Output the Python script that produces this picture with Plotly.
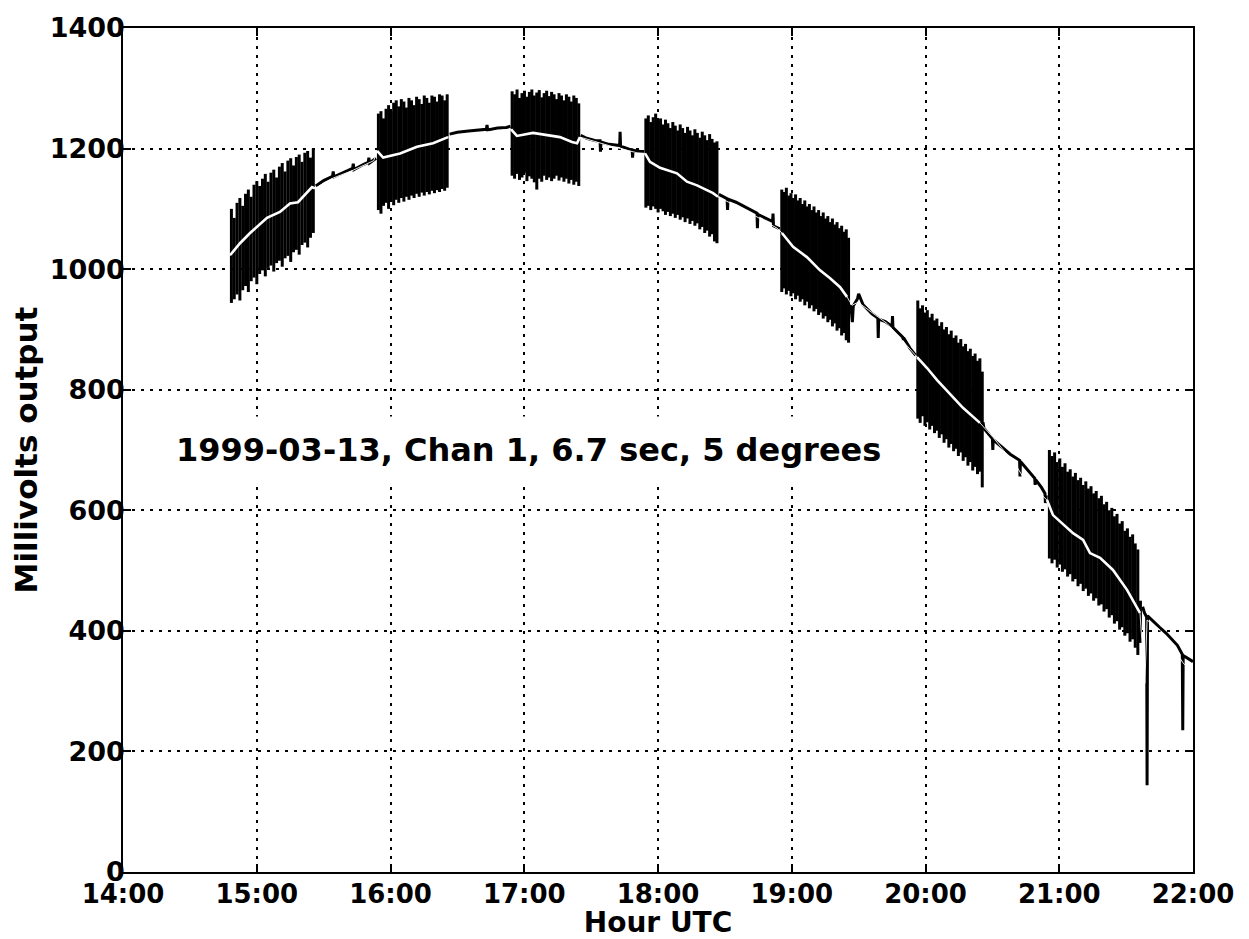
import pandas as pd
import plotly.graph_objects as go

BASE = pd.Timestamp("1999-03-13 14:00")

# ---- smoothed mean output (white curve): minutes after 14:00 UTC, millivolts
mean_min = [48.0, 52.5, 57.0, 64.6, 70.4, 74.9, 78.5, 84.8, 86.1,
            94.2, 103.2, 112.5, 114.0, 116.7, 124.3, 131.9, 139.1, 145.8,
            160.1, 174.1, 176.7, 183.9, 191.6, 196.0, 201.4, 203.7, 205.0,
            209.5, 219.8, 230.6, 234.2, 236.4, 240.9, 248.5, 253.0, 257.5, 264.7, 266.9,
            281.3, 293.4, 295.6, 300.6, 306.8, 312.7, 317.2, 321.7, 324.8, 327.0,
            329.7, 342.7, 356.2, 357.5, 360.7, 365.2, 372.3, 376.8, 384.4,
            390.3, 401.0, 403.8, 414.5, 417.2, 426.2, 430.7, 433.8, 438.3, 444.1, 450.4, 456.2,
            458.4, 459.4, 465.2, 472.8, 475.5, 480.0]
mean_mv = [1023, 1043, 1060, 1085, 1095, 1109, 1111, 1136, 1134,
           1151, 1164, 1180, 1196, 1185, 1192, 1203, 1209, 1219,
           1226, 1232, 1221, 1226, 1222, 1219, 1211, 1209, 1219,
           1214, 1203, 1193, 1192, 1178, 1168, 1159, 1145, 1139, 1126, 1120,
           1093, 1068, 1060, 1037, 1020, 998, 985, 970, 954, 940,
           945, 910, 854, 849, 836, 816, 788, 770, 745,
           721, 672, 655, 617, 592, 562, 551, 529, 521, 501, 468, 430,
           313, 418, 401, 363, 347, 330]

# ---- raw output between the swings (black trace, with its spikes)
raw_min = [86.5, 90.0, 94.0, 94.3, 94.6, 99.0, 103.0, 103.3, 103.6, 108.0, 110.0, 110.3, 110.6, 113.5,
           146.5, 150.0, 155.0, 160.0, 163.0, 163.3, 163.6, 168.0, 172.0, 173.8,
           205.3, 208.0, 212.0, 214.0, 214.2, 214.4, 218.0, 222.8, 223.0, 223.2, 227.0,
           228.4, 228.6, 228.8, 232.0, 233.8,
           267.3, 270.0, 271.0, 271.2, 271.4, 275.0, 279.0, 283.0, 284.4, 284.6, 284.8,
           288.0, 291.4, 291.6, 291.8, 294.6,
           326.5, 327.2, 327.6, 329.5, 330.0, 332.0, 336.0, 338.6, 338.8, 339.0, 342.0,
           345.0, 345.2, 345.4, 349.8, 350.0, 350.2, 353.0, 355.6,
           385.8, 386.2, 390.0, 390.2, 390.4, 394.0, 398.0, 402.2, 402.4, 402.6, 406.0,
           409.0, 409.2, 409.4, 412.0, 413.6, 413.8, 414.2,
           457.4, 458.2, 459.2, 459.4, 459.6, 462.0, 465.0, 468.0, 471.0, 473.0,
           475.2, 475.4, 475.6, 478.0, 480.0]
raw_mv = [1138, 1147, 1154, 1162, 1153, 1160, 1167, 1175, 1165, 1174, 1177, 1185, 1176, 1184,
          1224, 1227, 1229, 1231, 1232, 1239, 1231, 1234, 1235, 1237,
          1222, 1217, 1213, 1213, 1195, 1211, 1207, 1205, 1228, 1204, 1199,
          1198, 1185, 1197, 1195, 1195,
          1124, 1119, 1117, 1098, 1116, 1111, 1103, 1095, 1093, 1068, 1091,
          1085, 1079, 1092, 1072, 1067,
          941, 912, 939, 951, 959, 941, 926, 919, 886, 917, 913,
          905, 922, 903, 887, 882, 886, 869, 857,
          746, 736, 719, 700, 717, 706, 693, 683, 656, 681, 666,
          653, 642, 651, 638, 628, 612, 625,
          440, 430, 423, 144, 425, 416, 406, 396, 383, 376,
          361, 235, 359, 353, 349]

# ---- swings while the antenna is moved: start / end (minutes after 14:00), peak and trough values
burst_start = [48, 114, 174, 234, 295, 356, 415]
burst_end = [86, 146, 205, 267, 326, 386, 457]
b1_hi = [1100, 1085, 1110, 1118, 1105, 1125, 1132, 1120, 1140, 1146, 1138, 1150, 1158, 1145, 1160,
         1165, 1152, 1170, 1176, 1162, 1180, 1184, 1172, 1186, 1190, 1178, 1193, 1196, 1185, 1200]
b1_lo = [944, 950, 958, 948, 965, 972, 962, 980, 986, 975, 992, 998, 988, 1002, 1006,
         996, 1010, 1014, 1004, 1018, 1022, 1012, 1028, 1032, 1024, 1040, 1044, 1036, 1052, 1060]
b2_hi = [1258, 1262, 1250, 1266, 1272, 1262, 1276, 1280, 1270, 1282, 1278, 1268, 1284, 1280,
         1272, 1286, 1282, 1274, 1288, 1284, 1276, 1288, 1286, 1278, 1290, 1288, 1280, 1290]
b2_lo = [1098, 1092, 1105, 1110, 1100, 1112, 1106, 1115, 1110, 1118, 1112, 1120, 1115, 1122,
         1118, 1125, 1120, 1127, 1122, 1128, 1124, 1130, 1126, 1131, 1128, 1133, 1130, 1135]
b3_hi = [1295, 1290, 1298, 1284, 1292, 1296, 1286, 1294, 1298, 1288, 1293, 1297, 1285, 1292,
         1296, 1287, 1294, 1290, 1282, 1292, 1288, 1280, 1290, 1286, 1278, 1288, 1284, 1275]
b3_lo = [1155, 1150, 1158, 1148, 1152, 1160, 1146, 1154, 1150, 1144, 1132, 1150, 1145, 1155,
         1148, 1152, 1146, 1150, 1155, 1147, 1152, 1145, 1150, 1142, 1148, 1140, 1145, 1138]
b4_hi = [1250, 1255, 1244, 1252, 1258, 1246, 1250, 1240, 1248, 1242, 1234, 1244, 1238, 1230, 1240,
         1234, 1226, 1236, 1230, 1222, 1232, 1226, 1218, 1228, 1222, 1214, 1224, 1216, 1210, 1212]
b4_lo = [1102, 1105, 1098, 1104, 1100, 1094, 1100, 1096, 1090, 1095, 1088, 1092, 1085, 1090, 1082,
         1086, 1078, 1084, 1075, 1080, 1072, 1076, 1066, 1070, 1060, 1064, 1054, 1058, 1046, 1043]
b5_hi = [1132, 1128, 1135, 1122, 1126, 1118, 1124, 1114, 1118, 1108, 1114, 1104, 1108, 1098, 1104,
         1094, 1098, 1088, 1094, 1084, 1088, 1078, 1084, 1074, 1078, 1068, 1072, 1062, 1066, 1052]
b5_lo = [962, 968, 958, 964, 955, 960, 950, 956, 946, 950, 940, 946, 935, 940, 930,
         934, 924, 928, 918, 922, 912, 916, 905, 910, 898, 902, 890, 894, 882, 878]
b6_hi = [948, 935, 940, 928, 932, 920, 926, 915, 918, 906, 912, 900, 904, 892,
         898, 886, 890, 878, 884, 872, 876, 864, 868, 856, 860, 848, 852, 830]
b6_lo = [752, 745, 756, 740, 746, 734, 740, 728, 732, 720, 726, 712, 718, 704,
         710, 698, 702, 690, 696, 682, 688, 674, 680, 666, 672, 660, 664, 638]
b7_hi = [700, 690, 696, 680, 686, 672, 678, 664, 668, 656, 662, 650, 654, 642, 648, 636, 640, 628,
         632, 620, 624, 610, 614, 600, 604, 590, 594, 578, 582, 566, 570, 556, 560, 545, 535, 450]
b7_lo = [520, 512, 518, 505, 510, 498, 502, 490, 494, 482, 486, 474, 478, 466, 470, 458, 462, 450,
         454, 442, 444, 432, 436, 422, 426, 412, 416, 402, 406, 392, 396, 382, 386, 372, 360, 380]
burst_hi = [b1_hi, b2_hi, b3_hi, b4_hi, b5_hi, b6_hi, b7_hi]
burst_lo = [b1_lo, b2_lo, b3_lo, b4_lo, b5_lo, b6_lo, b7_lo]

y_ticks = [0, 200, 400, 600, 800, 1000, 1200, 1400]
annotation_text = "1999-03-13, Chan 1, 6.7 sec, 5 degrees"


def at(minutes):
    return [None if m is None else BASE + pd.Timedelta(minutes=m) for m in minutes]


# raw baseline, broken where a swing interval sits between two samples
rx, ry = [], []
for i, (m, v) in enumerate(zip(raw_min, raw_mv)):
    if i and m - raw_min[i - 1] > 5:
        rx.append(None)
        ry.append(None)
    rx.append(m)
    ry.append(v)

# swings drawn as vertical strokes from trough to peak
bx, by = [], []
for s, e, his, los in zip(burst_start, burst_end, burst_hi, burst_lo):
    n = len(his)
    step = (e - s) / n
    for k, (hv, lv) in enumerate(zip(his, los)):
        t = s + (k + 0.5) * step
        bx += [t, t, None]
        by += [lv, hv, None]

# thick white mean inside the swing intervals
wx, wy = [], []
for s, e in zip(burst_start, burst_end):
    for m, v in zip(mean_min, mean_mv):
        if s - 0.6 <= m <= e + 0.6:
            wx.append(m)
            wy.append(v)
    wx.append(None)
    wy.append(None)

fig = go.Figure()
fig.add_trace(go.Scatter(x=at(rx), y=ry, mode="lines", line=dict(color="black", width=3.0),
                         connectgaps=False, hoverinfo="skip", showlegend=False))
fig.add_trace(go.Scatter(x=at(bx), y=by, mode="lines", line=dict(color="black", width=3.0),
                         connectgaps=False, hoverinfo="skip", showlegend=False))
fig.add_trace(go.Scatter(x=at(mean_min), y=mean_mv, mode="lines",
                         line=dict(color="white", width=0.9), hoverinfo="skip", showlegend=False))
fig.add_trace(go.Scatter(x=at(wx), y=wy, mode="lines", line=dict(color="white", width=2.6),
                         connectgaps=False, hoverinfo="skip", showlegend=False))

fig.add_annotation(x=BASE + pd.Timedelta(minutes=182), y=700, text=annotation_text,
                   showarrow=False, xanchor="center", yanchor="middle",
                   font=dict(family="DejaVu Sans", size=32, color="black", weight="bold"),
                   bgcolor="white", borderpad=14)

# the page body adds an 8px offset, so the figure is 8px smaller than the window
fig.update_layout(
    width=1241, height=931,
    margin=dict(l=115, r=56, t=20, b=67),
    paper_bgcolor="white", plot_bgcolor="white",
    xaxis=dict(
        range=[BASE, BASE + pd.Timedelta(hours=8)],
        dtick=3600000, tickformat="%H:%M", tick0=BASE,
        showline=True, linecolor="black", linewidth=1.5, mirror="ticks",
        ticks="inside", ticklen=8, tickwidth=1.5, tickcolor="black",
        showgrid=True, gridcolor="black", gridwidth=1.6, griddash="3px,6px",
        zeroline=False, ticklabelstandoff=-2, automargin=False,
        tickfont=dict(family="DejaVu Sans", size=26, color="black", weight="bold"),
        title=dict(text="Hour UTC", standoff=7,
                   font=dict(family="DejaVu Sans", size=28, color="black", weight="bold")),
    ),
    yaxis=dict(
        range=[0, 1400], tickvals=y_ticks,
        showline=True, linecolor="black", linewidth=1.5, mirror="ticks",
        ticks="inside", ticklen=8, tickwidth=1.5, tickcolor="black",
        showgrid=True, gridcolor="black", gridwidth=1.6, griddash="3px,6px",
        zeroline=False, ticklabelstandoff=-9, automargin=False,
        tickfont=dict(family="DejaVu Sans", size=27, color="black", weight="bold"),
        title=dict(text="Millivolts output", standoff=4,
                   font=dict(family="DejaVu Sans", size=31, color="black", weight="bold")),
    ),
)

fig.write_html("out.html")
